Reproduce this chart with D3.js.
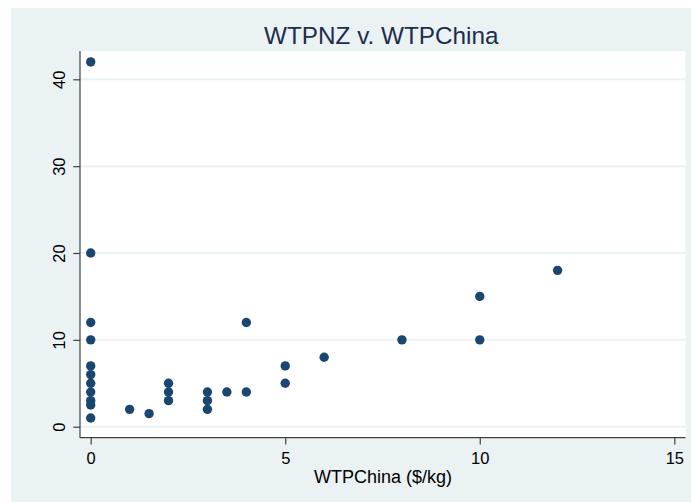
<!DOCTYPE html>
<html>
<head>
<meta charset="utf-8">
<script src="https://cdn.jsdelivr.net/npm/d3@7"></script>
<style>
  html, body { margin: 0; padding: 0; background: #ffffff; }
  svg { display: block; font-family: "Liberation Sans", Arial, sans-serif; }
</style>
</head>
<body>
<svg id="chart" width="691" height="502"></svg>
<script>
// WTPChina ($/kg) on x, WTPNZ on y
const wtpChina = [0, 0, 0, 0, 0, 0, 0, 0, 0, 0, 0, 1, 1.5, 2, 2, 2, 3, 3, 3, 3.5, 4, 4, 5, 5, 6, 8, 10, 10, 12];
const wtpNZ    = [42, 20, 12, 10, 7, 6, 5, 4, 3, 2.5, 1, 2, 1.5, 5, 4, 3, 4, 3, 2, 4, 12, 4, 7, 5, 8, 10, 15, 10, 18];
const xTicks = [0, 5, 10, 15];
const yTicks = [0, 10, 20, 30, 40];
const chartTitle = "WTPNZ v. WTPChina";
const xTitle = "WTPChina ($/kg)";

const svg = d3.select("#chart");

// outer graph region and white plot region
const outer = { left: 11, top: 8, right: 691, bottom: 502 };
const plot = { left: 80, top: 51, right: 685.5, bottom: 437.7 };

svg.append("rect")
  .attr("x", outer.left).attr("y", outer.top)
  .attr("width", outer.right - outer.left).attr("height", outer.bottom - outer.top)
  .attr("fill", "#eaf2f3");

svg.append("rect")
  .attr("x", plot.left).attr("y", plot.top)
  .attr("width", plot.right - plot.left).attr("height", plot.bottom - plot.top)
  .attr("fill", "#ffffff");

const x = d3.scaleLinear().domain([0, 15]).range([90.7, 674.3]);
const y = d3.scaleLinear().domain([0, 40]).range([426.7, 79.3]);

// horizontal grid lines
svg.append("g")
  .selectAll("line")
  .data(yTicks)
  .join("line")
  .attr("x1", plot.left).attr("x2", plot.right)
  .attr("y1", d => y(d)).attr("y2", d => y(d))
  .attr("stroke", "#eaf2f3")
  .attr("stroke-width", 2);

// y axis
const yAxis = svg.append("g")
  .attr("transform", `translate(${plot.left},0)`)
  .call(d3.axisLeft(y).tickValues(yTicks).tickSize(6.7).tickPadding(6).tickSizeOuter(0));
yAxis.select(".domain").remove();
yAxis.append("line")
  .attr("x1", 0).attr("x2", 0)
  .attr("y1", plot.top).attr("y2", plot.bottom)
  .attr("stroke", "#404040").attr("stroke-width", 1.2);
yAxis.selectAll(".tick line").attr("stroke", "#404040").attr("stroke-width", 1.2);
yAxis.selectAll(".tick text")
  .attr("font-size", 16.5)
  .attr("fill", "#000")
  .attr("text-anchor", "middle")
  .attr("dy", null)
  .attr("x", null)
  .attr("transform", "translate(-20.7,0) rotate(-90)")
  .attr("dominant-baseline", "central");

// x axis
const xAxis = svg.append("g")
  .attr("transform", `translate(0,${plot.bottom})`)
  .call(d3.axisBottom(x).tickValues(xTicks).tickSize(6.7).tickPadding(4).tickSizeOuter(0));
xAxis.select(".domain").remove();
xAxis.append("line")
  .attr("x1", plot.left).attr("x2", plot.right)
  .attr("y1", 0).attr("y2", 0)
  .attr("stroke", "#404040").attr("stroke-width", 1.2);
xAxis.selectAll(".tick line").attr("stroke", "#404040").attr("stroke-width", 1.2);
xAxis.selectAll(".tick text")
  .attr("font-size", 16.5)
  .attr("fill", "#000")
  .attr("dy", null)
  .attr("y", 20.6)
  .attr("dominant-baseline", "central");

// scatter points
svg.append("g")
  .selectAll("circle")
  .data(wtpChina.map((v, i) => ({ x: v, y: wtpNZ[i] })))
  .join("circle")
  .attr("cx", d => x(d.x))
  .attr("cy", d => y(d.y))
  .attr("r", 4.7)
  .attr("fill", "#1a476f");

// titles
svg.append("text")
  .attr("x", 381.3).attr("y", 35)
  .attr("text-anchor", "middle")
  .attr("dominant-baseline", "central")
  .attr("font-size", 24.3)
  .attr("fill", "#1e2d4e")
  .text(chartTitle);

svg.append("text")
  .attr("x", 383).attr("y", 477)
  .attr("text-anchor", "middle")
  .attr("dominant-baseline", "central")
  .attr("font-size", 18)
  .attr("fill", "#000")
  .text(xTitle);
</script>
</body>
</html>
